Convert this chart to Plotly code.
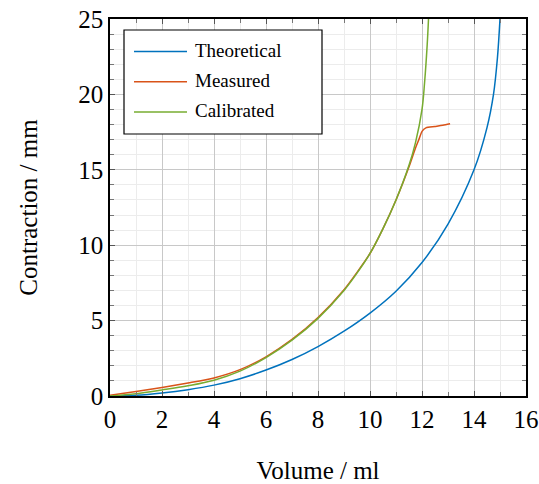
import plotly.graph_objects as go

# Theoretical curve
theo_v = [0, 1, 2, 3, 4, 5, 6, 7, 8, 9, 10, 11, 12, 13, 14, 14.5, 14.75, 14.9, 15.0]
theo_c = [0, 0.05, 0.2, 0.42, 0.72, 1.15, 1.72, 2.42, 3.28, 4.3, 5.5, 6.95, 8.85, 11.4, 15.0, 17.8, 20.0, 22.4, 25.0]

# Measured curve
meas_v = [0, 1, 2, 3, 4, 5, 6, 7, 8, 9, 9.5, 10, 10.5, 11, 11.5, 11.75, 11.9, 12.0, 12.15, 12.5, 12.8, 13.08]
meas_c = [0.05, 0.3, 0.56, 0.86, 1.2, 1.75, 2.6, 3.75, 5.2, 7.05, 8.2, 9.45, 11.1, 13.0, 15.2, 16.45, 17.1, 17.55, 17.78, 17.87, 17.95, 18.05]

# Calibrated curve
cal_v = [0, 1, 2, 3, 4, 5, 6, 7, 8, 9, 9.5, 10, 10.5, 11, 11.5, 11.75, 12.0, 12.1, 12.2, 12.25]
cal_c = [0, 0.15, 0.4, 0.68, 1.05, 1.65, 2.55, 3.7, 5.15, 7.0, 8.15, 9.45, 11.1, 13.0, 15.3, 16.8, 19.0, 20.8, 23.3, 25.0]

series_names = ["Theoretical", "Measured", "Calibrated"]
series_colors = ["#0072BD", "#D95319", "#77AC30"]

x_ticks = [0, 2, 4, 6, 8, 10, 12, 14, 16]
y_ticks = [0, 5, 10, 15, 20, 25]

fig = go.Figure()
for (vx, vy, nm, col, sm) in [(theo_v, theo_c, series_names[0], series_colors[0], 1.0),
                               (meas_v, meas_c, series_names[1], series_colors[1], 0.7),
                               (cal_v, cal_c, series_names[2], series_colors[2], 1.0)]:
    fig.add_trace(go.Scatter(x=vx, y=vy, mode="lines", name=nm,
                             line=dict(color=col, width=1.5, shape="spline", smoothing=sm)))

font_family = "Times New Roman, Liberation Serif, serif"
axis_common = dict(
    showline=True, linecolor="black", linewidth=1.5, mirror="ticks",
    ticks="inside", ticklen=5, tickcolor="#555555", tickwidth=1,
    showgrid=True, gridcolor="#c8c8c8", gridwidth=1.3,
    zeroline=False, automargin=False,
    tickfont=dict(family=font_family, size=25, color="black"),
    ticklabelstandoff=0,
)

fig.update_xaxes(
    range=[0, 16], tickvals=x_ticks, ticktext=[str(t) for t in x_ticks],
    minor=dict(dtick=1, showgrid=True, gridcolor="#ececec", gridwidth=1,
               ticks="inside", ticklen=4, tickcolor="#777777"),
    title=dict(text="Volume / ml", font=dict(family=font_family, size=25, color="black"), standoff=38),
    **axis_common,
)
fig.update_yaxes(
    range=[0, 25], tickvals=y_ticks, ticktext=[str(t) for t in y_ticks],
    minor=dict(dtick=1, showgrid=True, gridcolor="#ececec", gridwidth=1,
               ticks="inside", ticklen=4, tickcolor="#777777"),
    title=dict(text="Contraction / mm", font=dict(family=font_family, size=25, color="black"), standoff=34),
    **axis_common,
)

# Legend box drawn in paper coordinates
PL, PR, PT, PB = 110, 526, 19, 396
def px(x):
    return (x - PL) / (PR - PL)
def py(y):
    return (PB - y) / (PB - PT)

shapes = [dict(type="rect", xref="paper", yref="paper",
               x0=px(124), x1=px(322), y0=py(134), y1=py(30),
               line=dict(color="black", width=1.2), fillcolor="white", layer="above")]
annotations = []
for i, (nm, col) in enumerate(zip(series_names, series_colors)):
    yy = 51.5 + i * 30.3
    shapes.append(dict(type="line", xref="paper", yref="paper",
                       x0=px(134), x1=px(187), y0=py(yy), y1=py(yy),
                       line=dict(color=col, width=1.5), layer="above"))
    annotations.append(dict(text=nm, xref="paper", yref="paper", x=px(193), y=py(yy - 1.5),
                            xanchor="left", yanchor="middle", showarrow=False,
                            font=dict(family=font_family, size=19, color="black")))

fig.update_layout(
    width=539, height=484,
    margin=dict(l=110, r=13, t=19, b=88),
    paper_bgcolor="white", plot_bgcolor="white",
    showlegend=False,
    shapes=shapes, annotations=annotations,
)

fig.write_html("out.html", post_script="document.body.style.margin='0px';",
               config={"displayModeBar": False})
